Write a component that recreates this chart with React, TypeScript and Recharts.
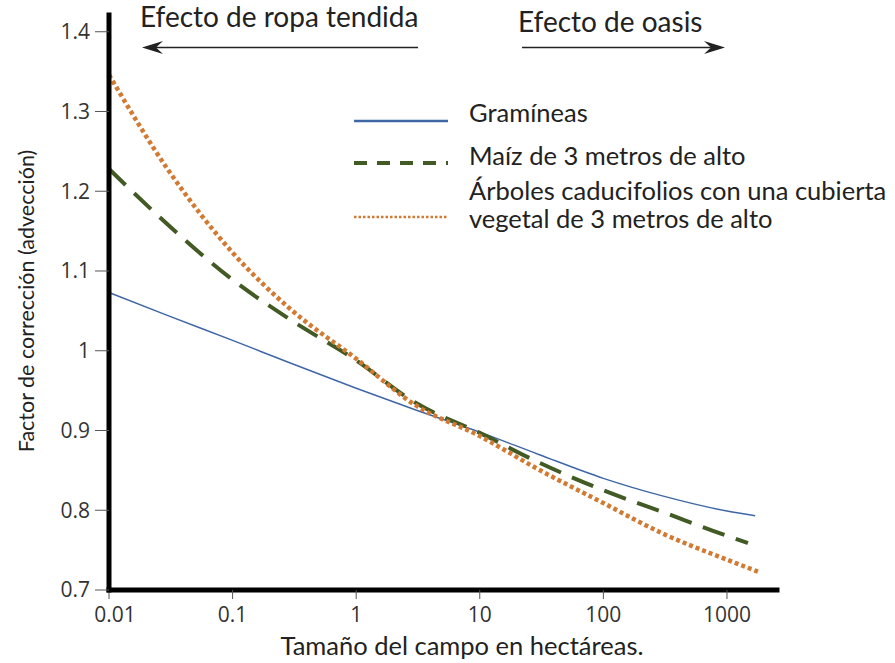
import React from "react";
import { Line, LineChart, XAxis, YAxis } from "recharts";

const sizes = [0.01, 0.03, 0.1, 0.3, 1, 3, 10, 30, 100, 300, 1000];
const grasses = [1.073, 1.044, 1.013, 0.984, 0.953, 0.926, 0.898, 0.87, 0.84, 0.818, 0.799];
const maize = [1.228, 1.158, 1.089, 1.038, 0.988, 0.935, 0.897, 0.86, 0.825, 0.798, 0.768];
const trees = [1.346, 1.227, 1.123, 1.051, 0.99, 0.932, 0.893, 0.851, 0.809, 0.771, 0.738];

// where each curve stops on the right
const lastSizes = [1690, 1480, 1780];
const lastValues = [0.793, 0.759, 0.723];

const xTicks = [0.01, 0.1, 1, 10, 100, 1000];
const yTicks = [0.7, 0.8, 0.9, 1, 1.1, 1.2, 1.3, 1.4];

const seriesNames = ["Gramíneas", "Maíz de 3 metros de alto", "Árboles caducifolios con una cubierta"];
const seriesNameTail = "vegetal de 3 metros de alto";

const build = (vals: number[], i: number) =>
  sizes.map((x, k) => ({ x, y: vals[k] })).concat([{ x: lastSizes[i], y: lastValues[i] }]);

const grassData = build(grasses, 0);
const maizeData = build(maize, 1);
const treeData = build(trees, 2);

const BLUE = "#3f67a6";
const GREEN = "#425a23";
const ORANGE = "#d27a32";
const TEXT = "#222";
const HEAD_FONT = "Lato, 'Open Sans', sans-serif";
const TICK_FONT = "'Open Sans', sans-serif";

const XTick = (props: any) => {
  const { x, y, payload } = props;
  const dx = payload.value === 0.01 ? 6 : 0;
  return (
    <text x={x + dx} y={y} dy={21} textAnchor="middle" fontFamily={TICK_FONT} fontSize={21} fill="#333">
      {payload.value}
    </text>
  );
};

export default function App() {
  return (
    <div style={{ position: "relative", width: 895, height: 663, background: "#fff" }}>
      <style>{`body{margin:0}`}</style>
      <LineChart width={895} height={663} margin={{ top: 15, right: 118, left: 0, bottom: 0 }}>
        <XAxis
          dataKey="x"
          type="number"
          scale="log"
          domain={[0.01, 2540]}
          ticks={xTicks}
          allowDataOverflow
          height={73}
          tick={<XTick />}
          tickSize={9}
          axisLine={{ stroke: "#000", strokeWidth: 5, strokeLinecap: "square" }}
          tickLine={{ stroke: "#555", strokeWidth: 1 }}
        />
        <YAxis
          dataKey="y"
          type="number"
          domain={[0.7, 1.421]}
          ticks={yTicks}
          allowDataOverflow
          width={109}
          tickSize={14}
          tickMargin={5}
          tickFormatter={(v: number) => String(v)}
          tick={{ fontFamily: TICK_FONT, fontSize: 21, fill: "#333" }}
          axisLine={{ stroke: "#000", strokeWidth: 5, strokeLinecap: "square" }}
          tickLine={{ stroke: "#555", strokeWidth: 1 }}
        />
        <Line
          data={grassData}
          dataKey="y"
          name={seriesNames[0]}
          type="monotone"
          stroke={BLUE}
          strokeWidth={1.5}
          dot={false}
          isAnimationActive={false}
        />
        <Line
          data={maizeData}
          dataKey="y"
          name={seriesNames[1]}
          type="monotone"
          stroke={GREEN}
          strokeWidth={4}
          strokeDasharray="23 12"
          dot={false}
          isAnimationActive={false}
        />
        <Line
          data={treeData}
          dataKey="y"
          name={seriesNames[2]}
          type="monotone"
          stroke={ORANGE}
          strokeWidth={4.5}
          strokeDasharray="4 3"
          dot={false}
          isAnimationActive={false}
        />
      </LineChart>

      <svg
        width={895}
        height={663}
        style={{ position: "absolute", left: 0, top: 0, pointerEvents: "none" }}
      >
        {/* legend */}
        <line x1={354} x2={448} y1={121} y2={121} stroke={BLUE} strokeWidth={2.5} />
        <line x1={354} x2={448} y1={163} y2={163} stroke={GREEN} strokeWidth={4} strokeDasharray="13 10" />
        <line x1={354} x2={448} y1={217} y2={217} stroke={ORANGE} strokeWidth={2.5} strokeDasharray="2.5 2" />
        <g fontFamily={HEAD_FONT} fontSize={25.5} fill={TEXT}>
          <text x={469} y={122}>{seriesNames[0]}</text>
          <text x={469} y={165}>{seriesNames[1]}</text>
          <text x={469} y={200}>{seriesNames[2]}</text>
          <text x={469} y={228}>{seriesNameTail}</text>
        </g>

        {/* titles */}
        <g fontFamily={HEAD_FONT} fill={TEXT}>
          <text x={140} y={27} fontSize={28}>Efecto de ropa tendida</text>
          <text x={518} y={32} fontSize={28}>Efecto de oasis</text>
          <text x={462} y={655} fontSize={25.5} textAnchor="middle">Tamaño del campo en hectáreas.</text>
          <text x={0} y={0} fontSize={21.5} textAnchor="middle" transform="translate(34 301) rotate(-90)">
            Factor de corrección (advección)
          </text>
        </g>
        <line x1={156} x2={418} y1={47.5} y2={47.5} stroke={TEXT} strokeWidth={1.5} />
        <polygon points="142,47.5 163,41 156,47.5 163,54" fill={TEXT} />
        <line x1={522} x2={712} y1={47.5} y2={47.5} stroke={TEXT} strokeWidth={1.5} />
        <polygon points="725,47.5 704,41 711,47.5 704,54" fill={TEXT} />
      </svg>
    </div>
  );
}
